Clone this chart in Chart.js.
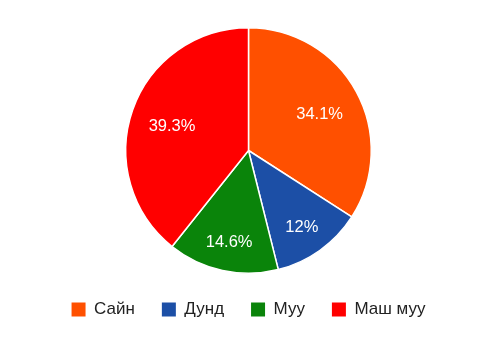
<!DOCTYPE html>
<html>
<head>
<meta charset="utf-8">
<script src="https://cdn.jsdelivr.net/npm/chart.js@4/dist/chart.umd.min.js"></script>
<style>
  html, body { margin: 0; padding: 0; background: #fff; }
  #wrap { width: 482px; height: 342px; }
</style>
</head>
<body>
<div id="wrap"><canvas id="pieChart"></canvas></div>
<script>
// Chart data
const categories = ["Сайн", "Дунд", "Муу", "Маш муу"];
const percentages = [34.1, 12, 14.6, 39.3];
const sliceColors = ["#ff5000", "#1c4fa6", "#0a840a", "#ff0000"];

// Percent labels drawn inside each slice
const sliceLabels = {
  id: "sliceLabels",
  afterDatasetsDraw(chart) {
    const ctx = chart.ctx;
    const meta = chart.getDatasetMeta(0);
    ctx.save();
    ctx.font = "16.5px 'Liberation Sans', Arial, sans-serif";
    ctx.fillStyle = "#ffffff";
    ctx.textAlign = "center";
    ctx.textBaseline = "middle";
    meta.data.forEach((arc, i) => {
      const { x, y, startAngle, endAngle, outerRadius } = arc.getProps(
        ["x", "y", "startAngle", "endAngle", "outerRadius"], true
      );
      const mid = (startAngle + endAngle) / 2;
      // small slices get their label pushed further out
      const frac = percentages[i] < 20 ? 0.745 : 0.66;
      const r = outerRadius * frac;
      ctx.fillText(percentages[i] + "%", x + Math.cos(mid) * r, y + Math.sin(mid) * r + 2.5);
    });
    ctx.restore();
  },
};

const defaultLabels = Chart.overrides.pie.plugins.legend.labels.generateLabels;

new Chart(document.getElementById("pieChart"), {
  type: "pie",
  data: {
    labels: categories,
    datasets: [
      {
        data: percentages,
        backgroundColor: sliceColors,
        borderColor: "#ffffff",
        borderWidth: 1.5,
        hoverOffset: 0,
      },
    ],
  },
  options: {
    responsive: true,
    maintainAspectRatio: false,
    animation: false,
    layout: { padding: { top: 27, left: 15, right: 0, bottom: 14 } },
    plugins: {
      tooltip: { enabled: false },
      legend: {
        position: "bottom",
        labels: {
          boxWidth: 14,
          boxHeight: 14,
          padding: 27,
          color: "#222222",
          font: { family: "'Liberation Sans', Arial, sans-serif", size: 17 },
          generateLabels(chart) {
            return defaultLabels(chart).map((item) => ({ ...item, lineWidth: 0 }));
          },
        },
      },
    },
  },
  plugins: [sliceLabels],
});
</script>
</body>
</html>
